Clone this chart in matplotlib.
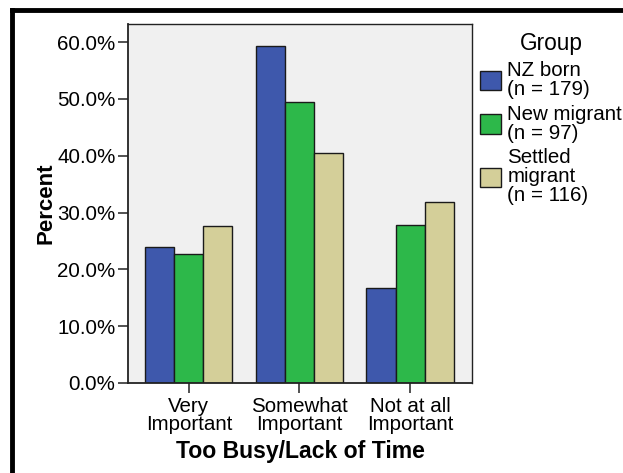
import matplotlib
matplotlib.use("Agg")
import matplotlib.pyplot as plt
import numpy as np
from matplotlib.patches import Patch
from matplotlib.lines import Line2D

plt.rcParams['font.family'] = ['Liberation Sans', 'DejaVu Sans']

categories = ["Very\nImportant", "Somewhat\nImportant", "Not at all\nImportant"]
groups = ["NZ born\n(n = 179)", "New migrant\n(n = 97)", "Settled\nmigrant\n(n = 116)"]
nz_born = [23.9, 59.3, 16.7]
new_migrant = [22.7, 49.5, 27.8]
settled_migrant = [27.6, 40.5, 31.9]
colors = ["#3e58ac", "#2db84a", "#d4cf99"]

fig = plt.figure(figsize=(6.23, 4.73), dpi=100)
ax = fig.add_axes([128 / 623, 1 - 383 / 473, 344 / 623, 359 / 473])
ax.set_facecolor("#f0f0f0")

x = np.arange(len(categories))
w = 0.263
for i, vals in enumerate([nz_born, new_migrant, settled_migrant]):
    ax.bar(x + (i - 1) * w, vals, width=w, color=colors[i],
           edgecolor="#1a1a1a", linewidth=1.0, label=groups[i], zorder=2)

ax.set_xlim(-0.55, 2.56)
ax.set_ylim(0, 63.2)
ax.set_yticks([0, 10, 20, 30, 40, 50, 60])
ax.set_yticklabels(["%.1f%%" % v for v in [0, 10, 20, 30, 40, 50, 60]])
ax.set_xticks(x)
ax.set_xticklabels(categories, linespacing=0.92)
ax.tick_params(axis="both", labelsize=14.8, length=7, width=1.2, color="#333333")
ax.tick_params(axis="y", pad=2)
ax.tick_params(axis="x", pad=3)
for s in ax.spines.values():
    s.set_color("#222222")
    s.set_linewidth(1.0)
ax.spines["left"].set_linewidth(1.3)
ax.spines["bottom"].set_linewidth(1.3)

ax.set_xlabel("Too Busy/Lack of Time", fontsize=16.6, fontweight="bold")
ax.xaxis.set_label_coords(0.5, -0.16)
ax.set_ylabel("Percent", fontsize=16, fontweight="bold")
ax.yaxis.set_label_coords(-0.207, 0.5)

handles = [Patch(facecolor=colors[i], edgecolor="#1a1a1a", linewidth=1.0) for i in range(3)]
leg = fig.legend(handles, groups, loc="upper left", bbox_to_anchor=(480 / 623, 1 - 32 / 473),
                 frameon=False, title="Group", fontsize=14.8, title_fontsize=16.3,
                 handlelength=1.03, handleheight=1.07, handletextpad=0.3,
                 labelspacing=0.28, borderaxespad=0, borderpad=0)
for t in leg.get_texts():
    t.set_linespacing(1.0)

# outer black frame (cut off on right and bottom)
fig.add_artist(Line2D([11.5 / 623, 11.5 / 623], [0, 1 - 10 / 473], color="black", linewidth=3.5,
                      transform=fig.transFigure, solid_capstyle="projecting"))
fig.add_artist(Line2D([11.5 / 623, 1], [1 - 10.5 / 473, 1 - 10.5 / 473], color="black", linewidth=3.5,
                      transform=fig.transFigure, solid_capstyle="projecting"))

fig.savefig("out.png", dpi=100, facecolor="white")
